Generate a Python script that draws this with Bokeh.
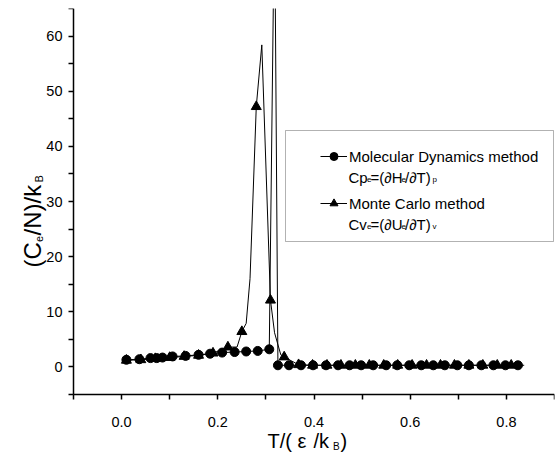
import math
from bokeh.plotting import figure
from bokeh.models import (FixedTicker, Range1d, Label, Legend, LegendItem,
                          BoxAnnotation, NumeralTickFormatter)
from bokeh.embed import file_html
from bokeh.resources import INLINE

# ---------------- data ----------------
# Molecular Dynamics method, Cp_e
md_T = [0.010, 0.037, 0.060, 0.073, 0.085, 0.106, 0.133, 0.160, 0.184, 0.209,
        0.235, 0.259, 0.283, 0.307, 0.318, 0.325, 0.348, 0.373, 0.398, 0.425,
        0.450, 0.474, 0.498, 0.523, 0.550, 0.573, 0.598, 0.623, 0.648, 0.672,
        0.698, 0.722, 0.748, 0.773, 0.798, 0.824]
md_C = [1.3, 1.4, 1.6, 1.6, 1.7, 1.9, 2.0, 2.2, 2.4, 2.6,
        2.7, 2.8, 2.9, 3.2, 85.0, 0.3, 0.3, 0.3, 0.3, 0.3,
        0.3, 0.3, 0.3, 0.3, 0.3, 0.3, 0.3, 0.3, 0.3, 0.3,
        0.3, 0.3, 0.3, 0.3, 0.3, 0.3]

# Monte Carlo method, Cv_e  (symbol flag: 1 = drawn with a triangle)
mc_T = [0.010, 0.040, 0.070, 0.100, 0.130, 0.160, 0.190, 0.221, 0.240, 0.250,
        0.259, 0.267, 0.280, 0.2915, 0.3095, 0.318, 0.331, 0.338, 0.368, 0.397,
        0.427, 0.456, 0.486, 0.515, 0.545, 0.574, 0.604, 0.634, 0.663, 0.692,
        0.722, 0.751, 0.781, 0.810, 0.837]
mc_C = [1.2, 1.3, 1.5, 1.7, 1.9, 2.1, 2.5, 3.6, 3.6, 6.4,
        7.9, 16.0, 47.2, 58.4, 12.1, 6.2, 2.2, 1.8, 0.4, 0.3,
        0.3, 0.3, 0.3, 0.3, 0.3, 0.3, 0.3, 0.3, 0.3, 0.3,
        0.3, 0.3, 0.3, 0.3, 0.3]
mc_symbol = [1, 1, 1, 1, 1, 1, 1, 1, 0, 1,
             0, 0, 1, 0, 1, 0, 0, 1, 1, 1,
             1, 1, 1, 1, 1, 1, 1, 1, 1, 1,
             1, 1, 1, 1, 0]

x_major_ticks = [0.0, 0.2, 0.4, 0.6, 0.8]
x_tick_labels = ["0.0", "0.2", "0.4", "0.6", "0.8"]
x_minor_ticks = [-0.1, 0.1, 0.3, 0.5, 0.7, 0.9]
y_major_ticks = [0, 10, 20, 30, 40, 50, 60]
y_tick_labels = ["0", "10", "20", "30", "40", "50", "60"]
y_minor_ticks = [-5, 5, 15, 25, 35, 45, 55, 65]

legend_md = "Molecular Dynamics method"
legend_mc = "Monte Carlo method"

# ---------------- layout ----------------
W, H = 555, 455
AX_LEFT, AX_TOP, AX_RIGHT, AX_BOTTOM = 73, 8, 554, 394   # axes box in canvas px
X0, X1 = -0.1, 0.9
Y0, Y1 = -5.0, 65.0
PXX = (AX_RIGHT - AX_LEFT) / (X1 - X0)
PXY = (AX_BOTTOM - AX_TOP) / (Y1 - Y0)
# the frame covers the whole canvas below the top border so that the
# axis titles (drawn as labels) are not clipped; axes are fixed in place
XS = X0 - AX_LEFT / PXX
YS = Y1 - (H - AX_TOP) / PXY


def px2x(px):
    return XS + px / PXX


def py2y(py):
    return Y1 - (py - AX_TOP) / PXY


FONT = "Liberation Sans"

p = figure(width=W, height=H, x_range=Range1d(XS, X1), y_range=Range1d(YS, Y1),
           output_backend="svg", toolbar_location=None,
           min_border_left=0, min_border_right=W - AX_RIGHT, min_border_top=AX_TOP,
           min_border_bottom=0)
p.outline_line_color = None
p.grid.visible = False
p.background_fill_color = "white"
p.border_fill_color = "white"

xa = p.xaxis[0]
xa.fixed_location = Y0
xa.bounds = (X0, X1)
xa.ticker = FixedTicker(ticks=x_major_ticks, minor_ticks=x_minor_ticks)
xa.formatter = NumeralTickFormatter(format="0.0")
xa.major_label_overrides = {t: s for t, s in zip(x_major_ticks, x_tick_labels)}
xa.major_label_standoff = 17
ya = p.yaxis[0]
ya.fixed_location = X0
ya.bounds = (Y0, Y1)
ya.ticker = FixedTicker(ticks=y_major_ticks, minor_ticks=y_minor_ticks)
ya.formatter = NumeralTickFormatter(format="0")
ya.major_label_overrides = {t: s for t, s in zip(y_major_ticks, y_tick_labels)}
ya.major_label_standoff = 6
for ax in (xa, ya):
    ax.axis_line_color = "black"
    ax.axis_line_width = 1.5
    ax.major_tick_line_color = "black"
    ax.minor_tick_line_color = "black"
    ax.major_tick_line_width = 1.5
    ax.minor_tick_line_width = 1.5
    ax.major_tick_in = 0
    ax.major_tick_out = 5
    ax.minor_tick_in = 0
    ax.minor_tick_out = 5
    ax.major_label_text_font = FONT
    ax.major_label_text_font_size = "14.5px"
    ax.major_label_text_color = "black"

# ---------------- data glyphs ----------------
md_line = p.line(md_T, md_C, line_color="black", line_width=1)
md_pts = p.scatter(md_T, md_C, marker="circle", size=9, color="black")
mc_line = p.line(mc_T, mc_C, line_color="black", line_width=1)
mc_Ts = [t for t, f in zip(mc_T, mc_symbol) if f]
mc_Cs = [c for c, f in zip(mc_C, mc_symbol) if f]
mc_pts = p.scatter(mc_Ts, mc_Cs, marker="triangle", size=10, color="black")

# ---------------- legend ----------------
box = BoxAnnotation(left=px2x(285), right=px2x(553), top=py2y(130), bottom=py2y(241),
                    fill_color="white", fill_alpha=1, line_color="black", line_width=1)
p.add_layout(box)

legend = Legend(items=[LegendItem(label=legend_md, renderers=[md_line, md_pts]),
                       LegendItem(label=legend_mc, renderers=[mc_line, mc_pts])],
                location=(320, H - 213),
                padding=0, margin=0, spacing=27, glyph_width=27, glyph_height=20,
                label_height=20, label_standoff=2, label_text_font=FONT,
                label_text_font_size="15px", label_text_color="black",
                border_line_color=None, background_fill_alpha=0)
p.add_layout(legend)


def txt(s, px, py, size, angle=0.0):
    p.add_layout(Label(x=px2x(px), y=py2y(py), text=s, text_font=FONT,
                       text_font_size=size, text_color="black",
                       text_align="left", text_baseline="alphabetic",
                       angle=angle))


# second lines of the legend entries
for first, main2, sub2, base in (("Cp", "H", "p", 176.5), ("Cv", "U", "v", 223.5)):
    txt(first, 348, base, "15px")
    txt("e", 366.5, base + 2, "8px")
    txt("=(\u2202" + main2, 370, base, "15px")
    txt("e", 401, base + 2, "8px")
    txt("/\u2202T)", 404.5, base, "15px")
    txt(sub2, 432, base + 2, "8px")

# x axis title  T/(ε/k_B)
txt("T/(", 267, 440, "20px")
txt("\u03b5", 297, 440, "20px")
txt("/k", 313, 440, "20px")
txt("B", 332.5, 446, "10px")
txt(")", 340, 440, "20px")

# y axis title  (C_e/N)/k_B, rotated
A = math.pi / 2
txt("(C", 31.5, 267, "24px", A)
txt("e", 38, 241.5, "11px", A)
txt("/N)/k", 31.5, 235, "24px", A)
txt("B", 38.3, 182, "11px", A)

open("out.html", "w").write(file_html(p, INLINE))
